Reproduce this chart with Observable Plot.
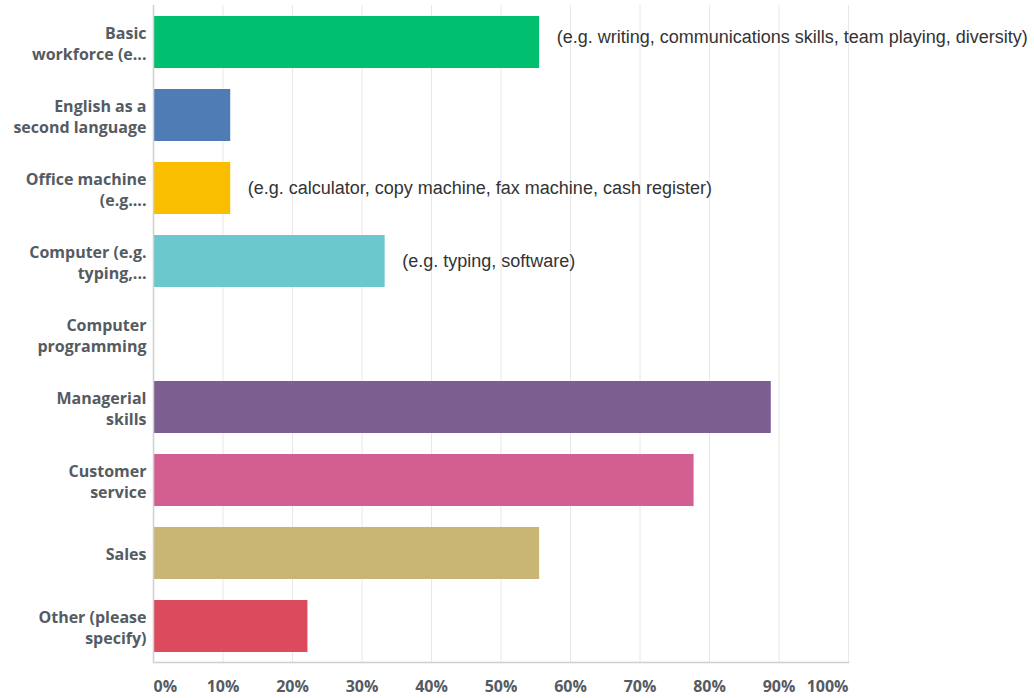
<!DOCTYPE html>
<html>
<head>
<meta charset="utf-8">
<script src="https://cdn.jsdelivr.net/npm/d3@7"></script>
<script src="https://cdn.jsdelivr.net/npm/@observablehq/plot@0.6"></script>
<style>
  html, body { margin: 0; padding: 0; background: #fff; }
</style>
</head>
<body>
<div id="chart"></div>
<script>
const categories = [
  "Basic workforce", "English as a second language", "Office machine", "Computer",
  "Computer programming", "Managerial skills", "Customer service", "Sales", "Other (please specify)"
];
const labels = [
  "Basic\nworkforce (e...", "English as a\nsecond language", "Office machine\n(e.g....", "Computer (e.g.\ntyping,...",
  "Computer\nprogramming", "Managerial\nskills", "Customer\nservice", "Sales", "Other (please\nspecify)"
];
const values = [55.56, 11.11, 11.11, 33.33, 0, 88.89, 77.78, 55.56, 22.22];
const colors = ["#00bf6f", "#507cb6", "#f9be00", "#6bc8cd", "#ff8b4f", "#7d5e90", "#d25f90", "#c9b675", "#dc4b5d"];
const notes = [
  "(e.g. writing, communications skills, team playing, diversity)", "",
  "(e.g. calculator, copy machine, fax machine, cash register)",
  "(e.g. typing, software)", "", "", "", "", ""
];
const ticks = [0, 10, 20, 30, 40, 50, 60, 70, 80, 90, 100];

const data = categories.map((c, i) => ({cat: c, label: labels[i], value: values[i], note: notes[i], i}));
const tickStyle = {frameAnchor: "bottom", dy: 29, fontSize: 16, fontWeight: "bold", fill: "#555b62",
  fontFamily: "'Open Sans', sans-serif", text: d => d + "%"};
const noteStyle = {x: "value", y: "cat", text: "note", textAnchor: "start", dx: 17,
  fontSize: 18, fill: "#333", fontFamily: "'Liberation Sans', Helvetica, Arial, sans-serif"};

const chart = Plot.plot({
  width: 1034,
  height: 698,
  marginLeft: 153,
  marginRight: 186,
  marginTop: 5,
  marginBottom: 36,
  x: {domain: [0, 100], axis: null},
  y: {domain: categories, paddingInner: 0.29, paddingOuter: 0.145, axis: null},
  color: {domain: categories, range: colors},
  marks: [
    Plot.ruleX(ticks.slice(1), {stroke: "#e8e8e8", strokeWidth: 1}),
    Plot.barX(data, {x: "value", y: "cat", fill: "cat"}),
    Plot.ruleX([0], {stroke: "#cfcfcf", strokeWidth: 1.5}),
    Plot.frame({anchor: "bottom", stroke: "#cfcfcf", strokeWidth: 1.5}),
    Plot.text(data, {x: 0, y: "cat", text: "label", textAnchor: "end", dx: -7, lineHeight: 1.3,
      fontSize: 16, fontWeight: "bold", fill: "#555b62", fontFamily: "'Open Sans', sans-serif"}),
    Plot.text(data.filter(d => d.note && d.i === 0), {...noteStyle, dy: -5}),
    Plot.text(data.filter(d => d.note && d.i > 0), noteStyle),
    Plot.text(ticks.filter(t => t === 0), {...tickStyle, x: d => d, textAnchor: "start"}),
    Plot.text(ticks.filter(t => t > 0 && t < 100), {...tickStyle, x: d => d, textAnchor: "middle"}),
    Plot.text(ticks.filter(t => t === 100), {...tickStyle, x: d => d, textAnchor: "end"})
  ]
});
document.getElementById("chart").append(chart);
</script>
</body>
</html>
